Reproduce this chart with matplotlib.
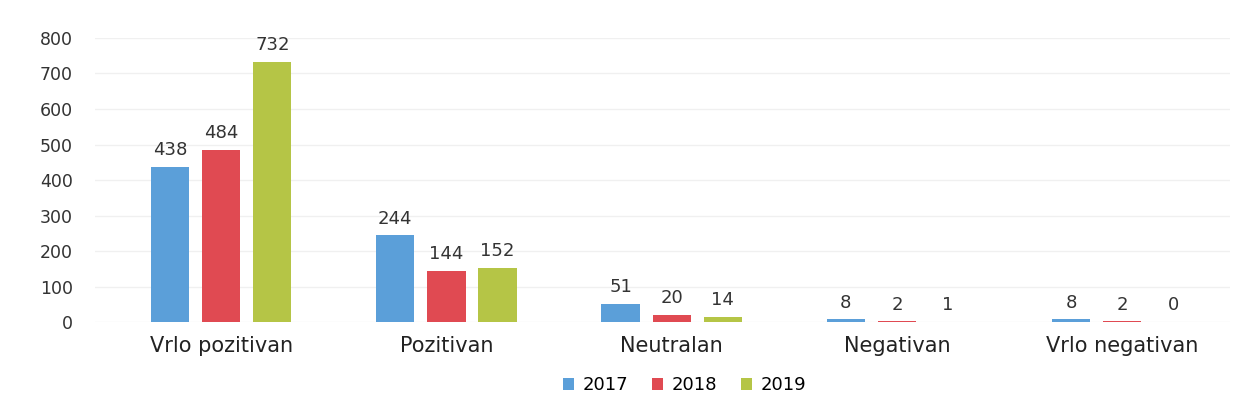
import matplotlib
matplotlib.use("Agg")
import matplotlib.pyplot as plt
import numpy as np

categories = ["Vrlo pozitivan", "Pozitivan", "Neutralan", "Negativan", "Vrlo negativan"]
years = ["2017", "2018", "2019"]
v2017 = [438, 244, 51, 8, 8]
v2018 = [484, 144, 20, 2, 2]
v2019 = [732, 152, 14, 1, 0]
colors = ["#5b9fd9", "#e04a52", "#b5c546"]
yticks = [0, 100, 200, 300, 400, 500, 600, 700, 800]

plt.rcParams['font.family'] = ['DejaVu Sans']

fig = plt.figure(figsize=(12.34, 4.12), dpi=100)
ax = fig.add_axes([0.077, 0.218, 0.92, 0.69])

x = np.arange(len(categories))
w = 0.17
off = 0.227
for i, (vals, c, yr) in enumerate(zip([v2017, v2018, v2019], colors, years)):
    xs = x + (i - 1) * off
    ax.bar(xs, vals, width=w, color=c, label=yr, zorder=3)
    for xi, v in zip(xs, vals):
        ax.text(xi, v + 22, str(v), ha='center', va='bottom', fontsize=13,
                color='#333333', clip_on=False)

ax.set_xlim(-0.56, 4.48)
ax.set_ylim(0, 800)
ax.set_yticks(yticks)
ax.set_yticklabels([str(t) for t in yticks], fontsize=12.5, color='#333333')
ax.set_xticks(x)
ax.set_xticklabels(categories, fontsize=15, color='#222222')
ax.tick_params(axis='both', length=0)
ax.tick_params(axis='y', pad=16)
ax.tick_params(axis='x', pad=10)
ax.grid(axis='y', color='#f0f0f0', linewidth=1, zorder=0)
for s in ax.spines.values():
    s.set_visible(False)

fig.legend(loc='center', bbox_to_anchor=(0.555, 0.065), ncol=3, frameon=False,
           fontsize=13, handlelength=0.6, handleheight=0.6, handletextpad=0.5,
           columnspacing=1.3)

fig.savefig("out.png", dpi=100)
